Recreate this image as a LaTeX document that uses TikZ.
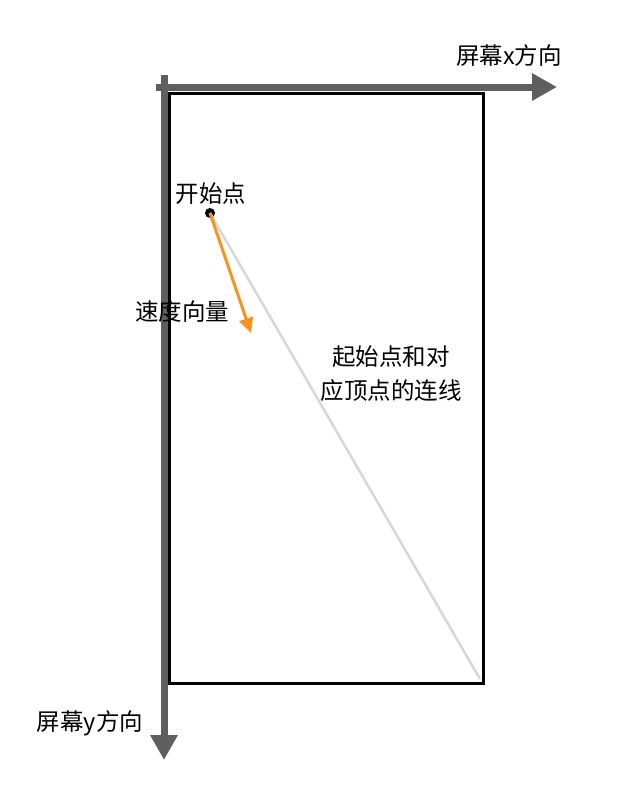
\documentclass[tikz,border=0pt]{standalone}
\usepackage{fontspec}
\usepackage{tikz}
\newfontfamily\cjk{Noto Sans CJK SC}
\definecolor{ax}{RGB}{95, 95, 95}
\definecolor{og}{RGB}{247, 147, 30}
\definecolor{lg}{RGB}{215, 215, 215}
\usetikzlibrary{positioning}
\usetikzlibrary{arrows.meta}

\begin{document}
\begin{tikzpicture}
				[x=1pt,y=-1pt,every node/.style={inner sep=0pt},
				lbl/.style={font=\cjk\fontsize{23.5}{34}\selectfont, align=center}]
				\useasboundingbox (0, 0) rectangle (640, 798);
				\coordinate (x0) at (156, 87);
				\coordinate (x1) at (557, 87);
				\coordinate (y0) at (164, 75);
				\coordinate (y1) at (164, 760);
				\coordinate (tl) at (169, 93);
				\coordinate (br) at (483, 683);
				\coordinate (c) at (480, 679);
				\coordinate (v) at (251, 333);
				\node (1) [circle, minimum size=10pt, fill=black] at (210, 213)  {};
				\draw [line width=2.5, color=lg] (1.center) to (c);
				\draw [line width=3, color=black] (tl) rectangle (br);
				\draw [line width=7, color=ax, -{Triangle[length=25pt,width=26pt]}] (x0) to (x1);
				\draw [line width=7, color=ax, -{Triangle[length=25pt,width=26pt]}] (y0) to (y1);
				\draw [line width=3, color=og, -{Triangle[length=15pt,width=14pt]}] (1.center) to (v);
				\node (2) [lbl] at (211, 194)  {开始点};
				\node (3) [lbl] at (182, 312)  {速度向量};
				\node (4) [lbl] at (391, 374)  {起始点和对\\应顶点的连线};
				\node (5) [lbl] at (509, 56)  {屏幕x方向};
				\node (6) [lbl] at (90, 723)  {屏幕y方向};
		\end{tikzpicture}
\end{document}
